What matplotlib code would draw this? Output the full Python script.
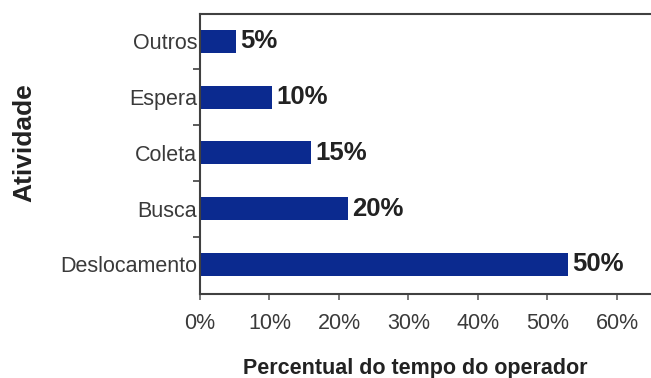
import matplotlib
matplotlib.use("Agg")
import matplotlib.pyplot as plt
from matplotlib.ticker import FixedLocator

categories = ["Deslocamento", "Busca", "Coleta", "Espera", "Outros"]
bar_lengths = [53.0, 21.3, 16.0, 10.4, 5.2]   # bar ends as drawn on the axis (%)
value_labels = ["50%", "20%", "15%", "10%", "5%"]
x_ticks = [0, 10, 20, 30, 40, 50, 60]
x_tick_labels = ["0%", "10%", "20%", "30%", "40%", "50%", "60%"]

plt.rcParams['font.family'] = ['Liberation Sans', 'DejaVu Sans']

fig = plt.figure(figsize=(6.51, 3.78), dpi=100)
ax = fig.add_axes([200/651, 84/378, 451/651, 280/378])

y = list(range(len(categories)))
ax.barh(y, bar_lengths, height=0.41, color="#0b2a8f", zorder=2)

for yi, v, lab in zip(y, bar_lengths, value_labels):
    ax.annotate(lab, (v, yi), xytext=(3, 0), textcoords="offset points",
                ha="left", va="center", fontsize=18.5, fontweight="bold", color="#222222")

ax.set_xlim(0, 64.9)
ax.set_ylim(-0.53, 4.49)
ax.set_xticks(x_ticks)
ax.set_xticklabels(x_tick_labels)
ax.set_yticks(y)
ax.set_yticklabels(categories)
ax.yaxis.set_minor_locator(FixedLocator([0.5, 1.5, 2.5, 3.5]))

ax.tick_params(axis="y", which="major", length=0, pad=2, labelsize=15.5, labelcolor="#3a3a3a")
ax.tick_params(axis="y", which="minor", length=5, width=1.2, color="#404040", direction="out")
ax.tick_params(axis="x", which="major", length=4, width=1.2, color="#606060", direction="out",
               pad=10, labelsize=15.5, labelcolor="#3a3a3a")

for s in ["left", "top", "bottom"]:
    ax.spines[s].set_color("#404040")
    ax.spines[s].set_linewidth(1.5)
ax.spines["right"].set_visible(False)

ax.set_xlabel("Percentual do tempo do operador", fontsize=15.5, fontweight="bold",
              color="#222222", labelpad=17)
ax.xaxis.label.set_x(0.477)
fig.text(24/651, 1 - 143/378, "Atividade", rotation=90, fontsize=19, fontweight="bold",
         color="#222222", ha="center", va="center")

fig.savefig("out.png", dpi=100)
